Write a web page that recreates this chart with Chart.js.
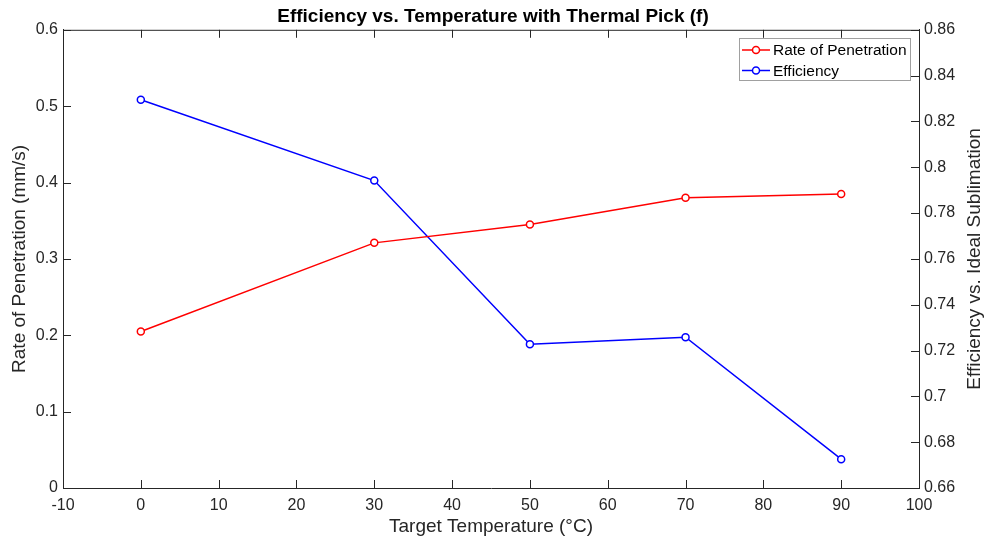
<!DOCTYPE html>
<html>
<head>
<meta charset="utf-8">
<script src="https://cdn.jsdelivr.net/npm/chart.js@4"></script>
<style>
  html, body { margin: 0; padding: 0; background: #fff; }
  #wrap { width: 986px; height: 544px; }
</style>
</head>
<body>
<div id="wrap"><canvas id="chart" width="986" height="544"></canvas></div>
<script>
// data
const temps = [0, 30, 50, 70, 90];
const ropValues = [0.205, 0.321, 0.345, 0.380, 0.385];
const effValues = [0.8295, 0.7942, 0.7227, 0.7258, 0.6726];

const xTitle = 'Target Temperature (\u00B0C)';
const yTitle = 'Rate of Penetration (mm/s)';
const y1Title = 'Efficiency vs. Ideal Sublimation';
const chartTitle = 'Efficiency vs. Temperature with Thermal Pick (f)';

const FONT = '"Liberation Sans", Arial, Helvetica, sans-serif';
const AXIS_COLOR = '#262626';

function toPoints(xs, ys) {
    return xs.map((x, i) => ({ x: x, y: ys[i] }));
}

// draws the box, inward ticks, axis titles and legend (matlab look)
const matlabAxes = {
    id: 'matlabAxes',
    afterDraw(chart) {
        const c = chart.ctx;
        const a = chart.chartArea;
        const sx = chart.scales.x, sy = chart.scales.y, sy1 = chart.scales.y1;
        const tl = 8;
        c.save();
        c.strokeStyle = AXIS_COLOR;
        c.lineWidth = 1;
        c.beginPath();
        c.moveTo(a.left, a.top + 0.5);
        c.lineTo(a.right, a.top + 0.5);
        sx.ticks.forEach(t => {
            const px = Math.round(sx.getPixelForValue(t.value)) + 0.5;
            c.moveTo(px, a.bottom); c.lineTo(px, a.bottom - tl);
            c.moveTo(px, a.top); c.lineTo(px, a.top + tl);
        });
        sy.ticks.forEach(t => {
            const py = Math.round(sy.getPixelForValue(t.value)) + 0.5;
            c.moveTo(a.left, py); c.lineTo(a.left + tl, py);
        });
        sy1.ticks.forEach(t => {
            const py = Math.round(sy1.getPixelForValue(t.value)) + 0.5;
            c.moveTo(a.right, py); c.lineTo(a.right - tl, py);
        });
        c.stroke();

        // axis titles
        c.fillStyle = AXIS_COLOR;
        c.font = '19px ' + FONT;
        c.textAlign = 'center';
        c.textBaseline = 'middle';
        c.fillText(xTitle, (a.left + a.right) / 2, 527);
        const midY = (a.top + a.bottom) / 2;
        c.save();
        c.translate(20, midY);
        c.rotate(-Math.PI / 2);
        c.fillText(yTitle, 0, 0);
        c.restore();
        c.save();
        c.translate(975, midY);
        c.rotate(-Math.PI / 2);
        c.fillText(y1Title, 0, 0);
        c.restore();

        // legend box
        const bx = 739.5, by = 38.5, bw = 171, bh = 42;
        c.fillStyle = '#fff';
        c.fillRect(bx, by, bw, bh);
        c.strokeStyle = '#a0a0a0';
        c.strokeRect(bx, by, bw, bh);
        c.font = '15.5px ' + FONT;
        c.textAlign = 'left';
        chart.data.datasets.forEach((ds, i) => {
            const ly = 50 + i * 20.5;
            c.strokeStyle = ds.borderColor;
            c.lineWidth = 1.5;
            c.beginPath();
            c.moveTo(742, ly); c.lineTo(770, ly);
            c.stroke();
            c.beginPath();
            c.fillStyle = '#fff';
            c.arc(756, ly, 3.5, 0, Math.PI * 2);
            c.fill();
            c.stroke();
            c.fillStyle = '#000';
            c.fillText(ds.label, 773, ly + 1);
        });
        c.restore();
    }
};

new Chart(document.getElementById('chart'), {
    type: 'line',
    data: {
        datasets: [{
            label: 'Rate of Penetration',
            data: toPoints(temps, ropValues),
            yAxisID: 'y',
            borderColor: '#ff0000',
            backgroundColor: '#ffffff',
            pointBackgroundColor: '#ffffff',
            pointBorderColor: '#ff0000',
            pointRadius: 3.5,
            pointBorderWidth: 1.5,
            borderWidth: 1.5,
            tension: 0
        }, {
            label: 'Efficiency',
            data: toPoints(temps, effValues),
            yAxisID: 'y1',
            borderColor: '#0000ff',
            backgroundColor: '#ffffff',
            pointBackgroundColor: '#ffffff',
            pointBorderColor: '#0000ff',
            pointRadius: 3.5,
            pointBorderWidth: 1.5,
            borderWidth: 1.5,
            tension: 0
        }]
    },
    options: {
        responsive: false,
        animation: false,
        layout: { padding: 0 },
        plugins: {
            legend: { display: false },
            tooltip: { enabled: false },
            title: {
                display: true,
                text: chartTitle,
                color: '#000',
                font: { family: FONT, size: 19, weight: 'bold' },
                padding: { top: 5, bottom: 2 }
            }
        },
        scales: {
            x: {
                type: 'linear',
                min: -10,
                max: 100,
                ticks: { stepSize: 10, color: AXIS_COLOR, font: { family: FONT, size: 16 }, padding: 8, maxRotation: 0 },
                grid: { display: false, drawTicks: false },
                border: { display: true, color: AXIS_COLOR },
                afterFit(scale) { scale.height = 56; }
            },
            y: {
                position: 'left',
                min: 0,
                max: 0.6,
                ticks: { stepSize: 0.1, color: AXIS_COLOR, font: { family: FONT, size: 16 }, padding: 5 },
                grid: { display: false, drawTicks: false },
                border: { display: true, color: AXIS_COLOR },
                afterFit(scale) { scale.width = 63; }
            },
            y1: {
                position: 'right',
                min: 0.66,
                max: 0.86,
                ticks: {
                    stepSize: 0.02, color: AXIS_COLOR, font: { family: FONT, size: 16 }, padding: 5,
                    callback: v => String(Math.round(v * 100) / 100)
                },
                grid: { display: false, drawTicks: false },
                border: { display: true, color: AXIS_COLOR },
                afterFit(scale) { scale.width = 67; }
            }
        }
    },
    plugins: [matlabAxes]
});
</script>
</body>
</html>
